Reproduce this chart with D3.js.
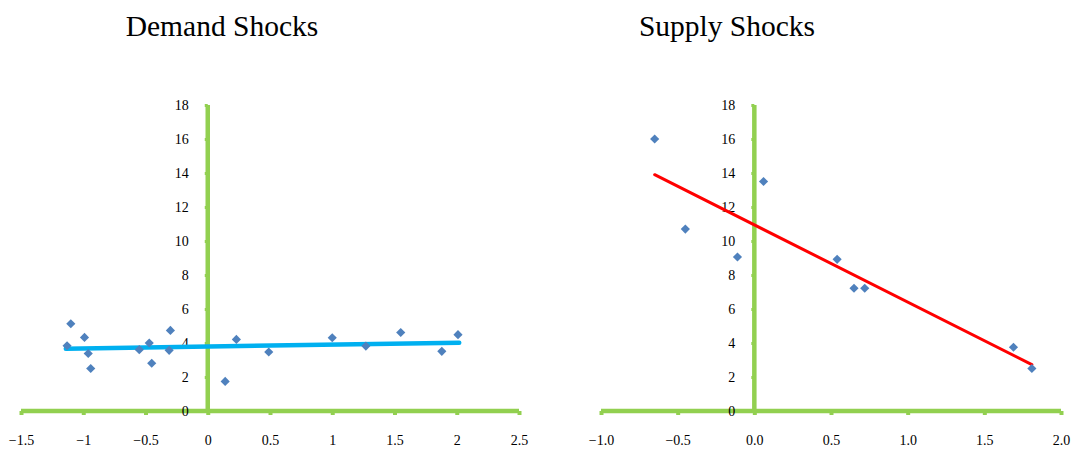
<!DOCTYPE html>
<html>
<head>
<meta charset="utf-8">
<style>
    html, body { margin: 0; padding: 0; background: #fff; }
</style>
</head>
<body>
<svg width="1072" height="449"></svg>
<script src="https://d3js.org/d3.v7.min.js"></script>
<script>
    // demand shocks scatter
    var demandX = [-1.13, -1.10, -0.99, -0.96, -0.94, -0.55, -0.47, -0.45, -0.31, -0.30, 0.14, 0.23, 0.49, 1.00, 1.27, 1.55, 1.88, 2.01];
    var demandY = [3.84, 5.13, 4.33, 3.38, 2.50, 3.61, 4.00, 2.81, 3.57, 4.74, 1.74, 4.21, 3.47, 4.31, 3.82, 4.62, 3.51, 4.49];
    var demandTrendX = [-1.14, 2.02];
    var demandTrendY = [3.66, 4.02];

    // supply shocks scatter
    var supplyX = [-0.65, -0.45, -0.11, 0.06, 0.54, 0.65, 0.72, 1.69, 1.81];
    var supplyY = [16.0, 10.7, 9.06, 13.5, 8.92, 7.22, 7.22, 3.75, 2.50];
    var supplyTrendX = [-0.65, 1.81];
    var supplyTrendY = [13.9, 2.73];

    var demandTicks = [-1.5, -1, -0.5, 0, 0.5, 1, 1.5, 2, 2.5];
    var supplyTicks = [-1.0, -0.5, 0.0, 0.5, 1.0, 1.5, 2.0];
    var yTicks = [0, 2, 4, 6, 8, 10, 12, 14, 16, 18];

    var svg = d3.select("svg");
    var green = "#92d050";
    var serif = "'Liberation Serif', 'Times New Roman', serif";

    function drawPanel(opt) {
        var x = d3.scaleLinear().domain(opt.xDomain).range(opt.xRange);
        var y = d3.scaleLinear().domain([0, 18]).range([411, 105]);
        var g = svg.append("g");

        g.append("text")
            .attr("x", opt.titleX)
            .attr("y", 36)
            .attr("text-anchor", "middle")
            .attr("font-family", serif)
            .attr("font-size", 29.5)
            .attr("fill", "#000")
            .text(opt.title);

        // x axis along y = 0
        var ax = g.append("g")
            .attr("transform", "translate(0," + y(0) + ")")
            .call(d3.axisBottom(x).tickValues(opt.ticks).tickFormat(opt.fmt).tickSize(4).tickPadding(20));
        ax.select(".domain").attr("stroke", green).attr("stroke-width", 4.5).attr("d", "M" + x.range()[0] + ",0H" + x.range()[1]);
        ax.selectAll(".tick line").attr("stroke", green).attr("stroke-width", 4);

        // y axis along x = 0
        var ay = g.append("g")
            .attr("transform", "translate(" + x(0) + ",0)")
            .call(d3.axisLeft(y).tickValues(yTicks).tickSize(3).tickPadding(16));
        ay.select(".domain").attr("stroke", green).attr("stroke-width", 4.5).attr("d", "M0," + y(18) + "V" + y(0));
        ay.selectAll(".tick line").attr("stroke", green).attr("stroke-width", 3);

        g.selectAll(".tick text")
            .attr("font-family", serif)
            .attr("font-size", 14)
            .attr("fill", "#000");

        // trend line
        var line = d3.line().x(function(d) { return x(d[0]); }).y(function(d) { return y(d[1]); });
        g.append("path")
            .datum(d3.zip(opt.trendX, opt.trendY))
            .attr("fill", "none")
            .attr("stroke", opt.trendColor)
            .attr("stroke-width", opt.trendWidth)
            .attr("stroke-linecap", "round")
            .attr("d", line);

        // diamond markers
        var diamond = d3.symbol(d3.symbolSquare, 42);
        g.selectAll(".dot")
            .data(d3.zip(opt.xs, opt.ys))
            .enter().append("path")
            .attr("class", "dot")
            .attr("d", diamond)
            .attr("fill", "#4f81bd")
            .attr("transform", function(d) { return "translate(" + x(d[0]) + "," + y(d[1]) + ") rotate(45)"; });
    }

    drawPanel({
        title: "Demand Shocks", titleX: 222,
        xDomain: [-1.5, 2.5], xRange: [21, 519],
        ticks: demandTicks, fmt: d3.format(""),
        xs: demandX, ys: demandY,
        trendX: demandTrendX, trendY: demandTrendY,
        trendColor: "#00b0f0", trendWidth: 4.5
    });

    drawPanel({
        title: "Supply Shocks", titleX: 727,
        xDomain: [-1, 2], xRange: [601, 1061],
        ticks: supplyTicks, fmt: d3.format(".1f"),
        xs: supplyX, ys: supplyY,
        trendX: supplyTrendX, trendY: supplyTrendY,
        trendColor: "#ff0000", trendWidth: 3
    });
</script>
</body>
</html>
